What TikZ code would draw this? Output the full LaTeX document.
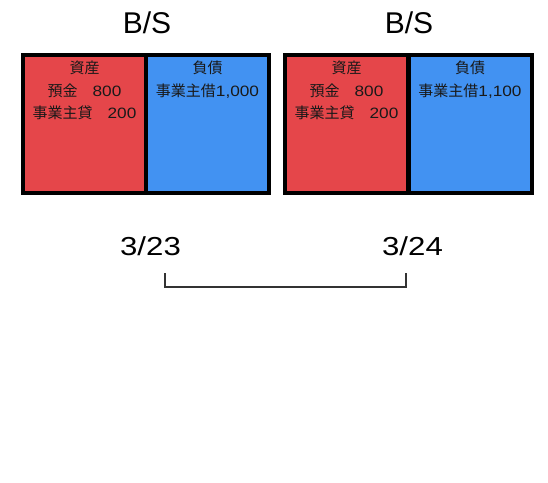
\documentclass[tikz,border=0pt]{standalone}
\usepackage{fontspec}
\setmainfont{Noto Sans CJK JP}
\newfontfamily\titlefont{Liberation Sans}
\newfontfamily\datefont[FakeStretch=1.2]{Liberation Sans}
\newfontfamily\numfont[FakeStretch=1.15]{Liberation Sans}
\definecolor{bsred}{RGB}{229,70,74}
\definecolor{bsblue}{RGB}{66,146,242}
\definecolor{txt}{RGB}{25,25,25}
\tikzset{
  cell/.style={draw=black, line width=4pt, inner sep=0pt, minimum height=138pt},
  redcell/.style={cell, fill=bsred, minimum width=123pt},
  bluecell/.style={cell, fill=bsblue, minimum width=123pt},
  celltext/.style={inner sep=0pt, text=txt, font=\fontsize{15}{17}\selectfont},
  title/.style={inner sep=0pt, font=\titlefont\fontsize{30}{34}\selectfont},
  datelabel/.style={inner sep=0pt, font=\datefont\fontsize{26}{30}\selectfont},
  bracket/.style={line width=1.1pt, draw=black!80}
}
\begin{document}
\begin{tikzpicture}[x=1pt,y=-1pt]
\useasboundingbox (0,0) rectangle (548,482);
% left B/S
\node[redcell] (r1) at (84.5,124) {};
\node[bluecell] (b1) at (207.5,124) {};
\node[title] (t1) at (147,23) {B/S};
\node[celltext] (r1a) at (84.5,68) {資産};
\node[celltext] (r1b) at (84.5,91) {預金\hspace{1em}{\numfont 800}};
\node[celltext] (r1c) at (84.5,113) {事業主貸\hspace{1em}{\numfont 200}};
\node[celltext] (b1a) at (207.5,68) {負債};
\node[celltext] (b1b) at (207.5,91) {事業主借{\numfont 1,000}};
% right B/S
\node[redcell] (r2) at (346.5,124) {};
\node[bluecell] (b2) at (470,124) {};
\node[title] (t2) at (409,23) {B/S};
\node[celltext] (r2a) at (346.5,68) {資産};
\node[celltext] (r2b) at (346.5,91) {預金\hspace{1em}{\numfont 800}};
\node[celltext] (r2c) at (346.5,113) {事業主貸\hspace{1em}{\numfont 200}};
\node[celltext] (b2a) at (470,68) {負債};
\node[celltext] (b2b) at (470,91) {事業主借{\numfont 1,100}};
% dates
\node[datelabel] (d1) at (150.5,246) {3/23};
\node[datelabel] (d2) at (412.5,246) {3/24};
\coordinate (p1) at (165,273);
\coordinate (p2) at (165,287);
\coordinate (p3) at (406,287);
\coordinate (p4) at (406,273);
\draw[bracket] (p1) -- (p2) -- (p3) -- (p4);
\end{tikzpicture}
\end{document}
